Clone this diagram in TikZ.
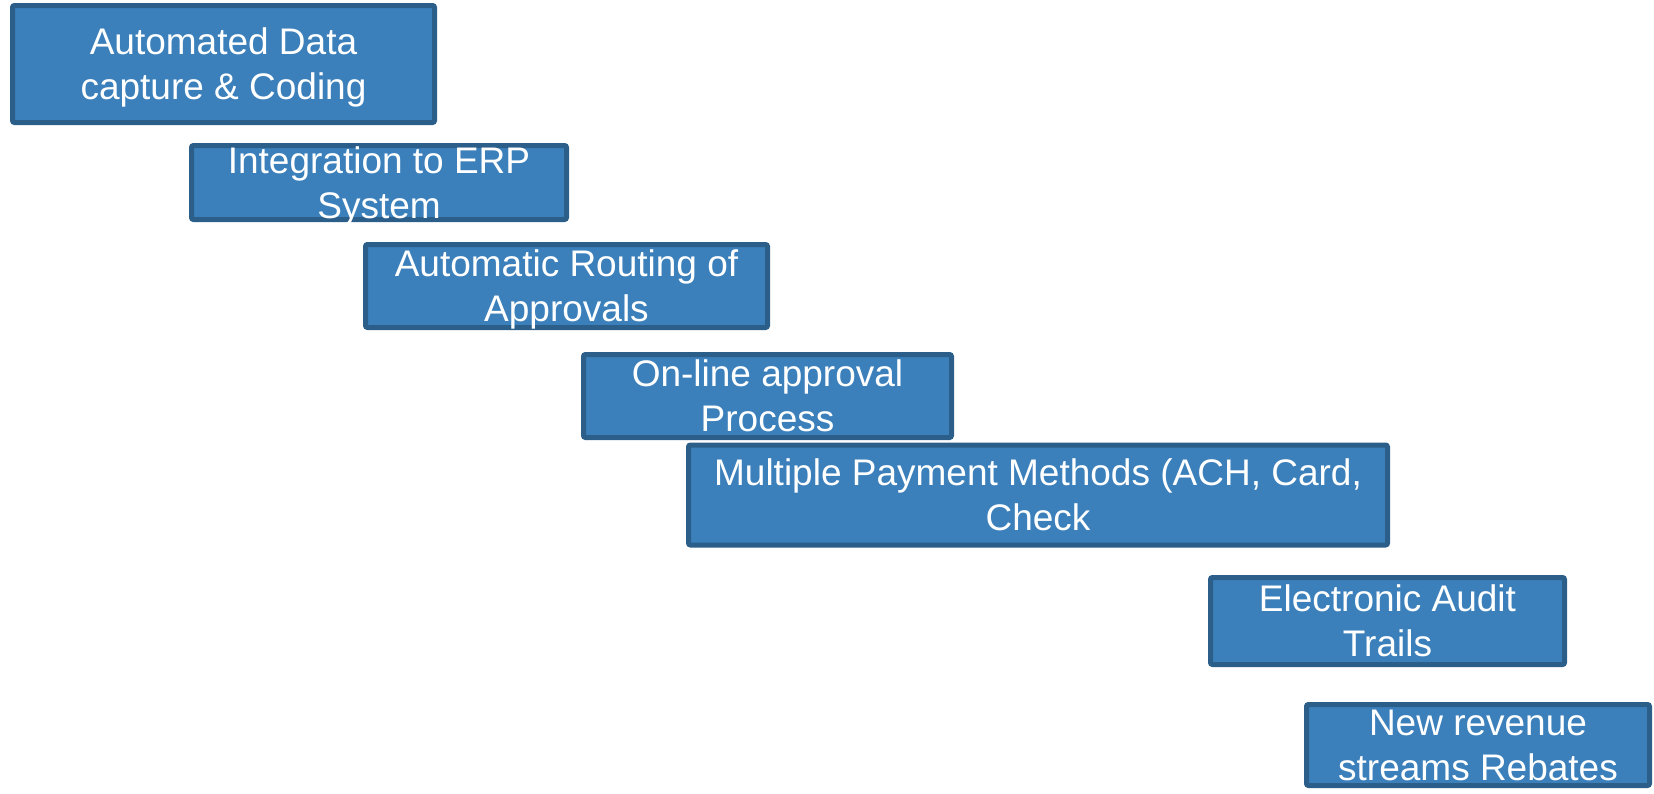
\documentclass[tikz,border=0pt]{standalone}
\usepackage{fontspec}
\setmainfont{Liberation Sans}
\definecolor{boxfill}{RGB}{59,128,187}
\definecolor{boxline}{RGB}{44,94,138}
\begin{document}
\begin{tikzpicture}[x=1pt,y=-1pt,
  stagebox/.style={draw=boxline, fill=boxfill, line width=5pt, rounded corners=2pt,
    inner sep=0pt, rectangle},
  stagetext/.style={text=white, align=center, inner sep=0pt,
    font=\fontsize{37}{45}\selectfont, text height=27pt, text depth=8pt, yshift=-26pt}]
\useasboundingbox (0,0) rectangle (1654,793);
% boxes: centre, width, height
\node[stagebox, minimum width=422pt, minimum height=117pt] (b1) at (223.5,64) {};
\node[stagebox, minimum width=375pt, minimum height=74pt]  (b2) at (379,182.5) {};
\node[stagebox, minimum width=402pt, minimum height=83pt]  (b3) at (566.5,286) {};
\node[stagebox, minimum width=368pt, minimum height=83pt]  (b4) at (767.5,396) {};
\node[stagebox, minimum width=699pt, minimum height=100pt] (b5) at (1038,495) {};
\node[stagebox, minimum width=354pt, minimum height=87pt]  (b6) at (1387.5,621) {};
\node[stagebox, minimum width=343pt, minimum height=81pt]  (b7) at (1478,745) {};
% labels
\node[stagetext] (t1) at (b1.center) {Automated Data\\capture \& Coding};
\node[stagetext] (t2) at (b2.center) {Integration to ERP\\System};
\node[stagetext] (t3) at (b3.center) {Automatic Routing of\\Approvals};
\node[stagetext] (t4) at (b4.center) {On-line approval\\Process};
\node[stagetext] (t5) at (b5.center) {Multiple Payment Methods (ACH, Card,\\Check};
\node[stagetext] (t6) at (b6.center) {Electronic Audit\\Trails};
\node[stagetext] (t7) at (b7.center) {New revenue\\streams Rebates};
\end{tikzpicture}
\end{document}
